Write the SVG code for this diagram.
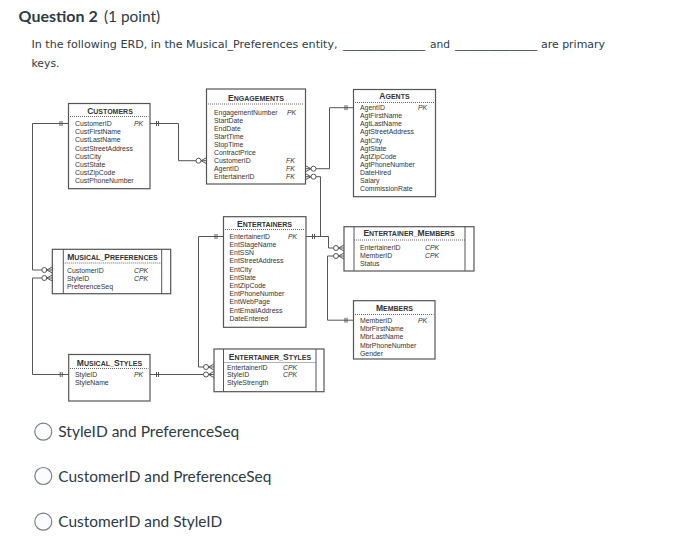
<svg xmlns="http://www.w3.org/2000/svg" xmlns:xlink="http://www.w3.org/1999/xlink" width="686" height="554" viewBox="0 0 686 554">
<style>
.bg{fill:#fff}
.ln{stroke:#555;stroke-width:1;fill:none}
.box{fill:#fff;stroke:#555;stroke-width:1.2}
.in{stroke:#555;stroke-width:1}
.dot{stroke:#555;stroke-width:0.9;stroke-dasharray:1 1}
.f{font-family:"Liberation Sans",Arial,sans-serif;font-size:6.9px;fill:#333}
.k{font-style:italic}
.ti{font-family:"Liberation Sans",Arial,sans-serif;font-weight:bold;font-size:7px;fill:#333;text-anchor:middle}
.ti .c{font-size:8.5px}
.q{font-family:"DejaVu Sans Condensed","DejaVu Sans",sans-serif;font-size:11px;fill:#2d3b45}
.h{font-family:Lato,"Liberation Sans",sans-serif;font-size:16px;fill:#2d3b45}
.opt{font-family:Lato,"Liberation Sans",sans-serif;font-size:16px;fill:#2d3b45}
.rad{fill:#fbfcff;stroke:#7a7e82;stroke-width:1.2}
</style>
<defs>
<g id="crowR">
<circle cx="-8" cy="0" r="2.5" fill="#fff" stroke="#555" stroke-width="1"/>
<path d="M-5.5,0 L0,-3 M-5.5,0 L0,0 M-5.5,0 L0,3" stroke="#555" stroke-width="1" fill="none"/>
</g>
<g id="crowL">
<circle cx="8" cy="0" r="2.5" fill="#fff" stroke="#555" stroke-width="1"/>
<path d="M5.5,0 L0,-3 M5.5,0 L0,0 M5.5,0 L0,3" stroke="#555" stroke-width="1" fill="none"/>
</g>
<path id="tickR" d="M-6.5,-2.5 V2.5 M-8.5,-2.5 V2.5" stroke="#555" stroke-width="1" fill="none"/>
<path id="tickL" d="M6.5,-2.5 V2.5 M8.5,-2.5 V2.5" stroke="#555" stroke-width="1" fill="none"/>
</defs>
<rect class="bg" x="0" y="0" width="686" height="554"/>

<g id="question">
<text class="h" x="18.6" y="21.5" font-weight="bold">Question 2</text>
<text class="h" x="104" y="21.5" textLength="56" lengthAdjust="spacingAndGlyphs">(1 point)</text>
<text class="q" x="31.5" y="48" textLength="306" lengthAdjust="spacingAndGlyphs">In the following ERD, in the Musical_Preferences entity,</text>
<text class="q" x="343" y="48" textLength="82" lengthAdjust="spacingAndGlyphs">____________</text>
<text class="q" x="430" y="48" textLength="20" lengthAdjust="spacingAndGlyphs">and</text>
<text class="q" x="455" y="48" textLength="82" lengthAdjust="spacingAndGlyphs">____________</text>
<text class="q" x="541" y="48" textLength="64" lengthAdjust="spacingAndGlyphs">are primary</text>
<text class="q" x="31.5" y="67" textLength="28" lengthAdjust="spacingAndGlyphs">keys.</text>
</g>

<g id="connectors">
<path class="ln" d="M150,123.5 H178.5 V160.7 H196"/>
<use xlink:href="#tickL" x="150" y="123.5"/>
<use xlink:href="#crowR" x="206.5" y="160.7"/>

<path class="ln" d="M68.5,123.5 H32.5 V270 H41.8"/>
<use xlink:href="#tickR" x="68.5" y="123.5"/>
<use xlink:href="#crowR" x="52.3" y="270"/>

<path class="ln" d="M68.7,374.5 H32.5 V278 H41.8"/>
<use xlink:href="#tickR" x="68.7" y="374.5"/>
<use xlink:href="#crowR" x="52.3" y="278"/>

<path class="ln" d="M150,374.5 H203.5"/>
<use xlink:href="#tickL" x="150" y="374.5"/>
<use xlink:href="#crowR" x="214" y="374.5"/>

<path class="ln" d="M223.5,236.5 H198.5 V367 H203.5"/>
<use xlink:href="#tickR" x="223.5" y="236.5"/>
<use xlink:href="#crowR" x="214" y="367"/>

<path class="ln" d="M316,168.7 H329.5 V107.7 H353.5"/>
<use xlink:href="#crowL" x="305.5" y="168.7"/>
<use xlink:href="#tickR" x="353.5" y="107.7"/>

<path class="ln" d="M316,176.7 H320.5 V236.5"/>
<use xlink:href="#crowL" x="305.5" y="176.7"/>

<path class="ln" d="M306,236.5 H328.5 V248 H333.5"/>
<use xlink:href="#tickL" x="306" y="236.5"/>
<use xlink:href="#crowR" x="344" y="248"/>

<path class="ln" d="M353.5,320.2 H327.5 V256 H333.5"/>
<use xlink:href="#tickR" x="353.5" y="320.2"/>
<use xlink:href="#crowR" x="344" y="256"/>
</g>

<g id="customers">
<rect class="box" x="68.5" y="103.5" width="81.5" height="85.2"/>
<text class="ti" x="110" y="113.5"><tspan class="c">C</tspan>USTOMERS</text>
<line class="dot" x1="70" y1="116.5" x2="148.5" y2="116.5"/>
<text class="f" x="75" y="126">CustomerID</text><text class="f k" x="134" y="126">PK</text>
<text class="f" x="75" y="134.2">CustFirstName</text>
<text class="f" x="75" y="142.4">CustLastName</text>
<text class="f" x="75" y="150.6">CustStreetAddress</text>
<text class="f" x="75" y="158.8">CustCity</text>
<text class="f" x="75" y="167">CustState</text>
<text class="f" x="75" y="175.2">CustZipCode</text>
<text class="f" x="75" y="183.4">CustPhoneNumber</text>
</g>

<g id="engagements">
<rect class="box" x="206.5" y="89" width="99" height="95"/>
<text class="ti" x="256" y="101.3"><tspan class="c">E</tspan>NGAGEMENTS</text>
<line class="dot" x1="208" y1="104" x2="304" y2="104"/>
<text class="f" x="214" y="115.2">EngagementNumber</text><text class="f k" x="287" y="115.2">PK</text>
<text class="f" x="214" y="123.2">StartDate</text>
<text class="f" x="214" y="131.2">EndDate</text>
<text class="f" x="214" y="139.2">StartTime</text>
<text class="f" x="214" y="147.2">StopTime</text>
<text class="f" x="214" y="155.2">ContractPrice</text>
<text class="f" x="214" y="163.2">CustomerID</text><text class="f k" x="286" y="163.2">FK</text>
<text class="f" x="214" y="171.2">AgentID</text><text class="f k" x="286" y="171.2">FK</text>
<text class="f" x="214" y="179.2">EntertainerID</text><text class="f k" x="286" y="179.2">FK</text>
</g>

<g id="agents">
<rect class="box" x="353.5" y="89.5" width="82" height="107.2"/>
<text class="ti" x="394.5" y="98.5"><tspan class="c">A</tspan>GENTS</text>
<line class="dot" x1="355" y1="102.5" x2="434" y2="102.5"/>
<text class="f" x="360" y="110.2">AgentID</text><text class="f k" x="418" y="110.2">PK</text>
<text class="f" x="360" y="118.3">AgtFirstName</text>
<text class="f" x="360" y="126.3">AgtLastName</text>
<text class="f" x="360" y="134.4">AgtStreetAddress</text>
<text class="f" x="360" y="142.5">AgtCity</text>
<text class="f" x="360" y="150.6">AgtState</text>
<text class="f" x="360" y="158.6">AgtZipCode</text>
<text class="f" x="360" y="166.7">AgtPhoneNumber</text>
<text class="f" x="360" y="174.8">DateHired</text>
<text class="f" x="360" y="182.8">Salary</text>
<text class="f" x="360" y="190.9">CommissionRate</text>
</g>

<g id="musical_preferences">
<rect class="box" x="52.3" y="249.3" width="118.4" height="44.4"/>
<line class="in" x1="63.3" y1="249.3" x2="63.3" y2="293.7"/>
<line class="in" x1="161.7" y1="249.3" x2="161.7" y2="293.7"/>
<text class="ti" x="112.5" y="259.7"><tspan class="c">M</tspan>USICAL_<tspan class="c">P</tspan>REFERENCES</text>
<line class="dot" x1="63.3" y1="263" x2="161.7" y2="263"/>
<text class="f" x="67" y="272.5">CustomerID</text><text class="f k" x="134" y="272.5">CPK</text>
<text class="f" x="67" y="280.5">StyleID</text><text class="f k" x="134" y="280.5">CPK</text>
<text class="f" x="67" y="288.5">PreferenceSeq</text>
</g>

<g id="entertainers">
<rect class="box" x="223.5" y="216.7" width="82.5" height="110.6"/>
<text class="ti" x="264.5" y="227"><tspan class="c">E</tspan>NTERTAINERS</text>
<line class="dot" x1="225" y1="229.5" x2="304.5" y2="229.5"/>
<text class="f" x="229.5" y="238.8">EntertainerID</text><text class="f k" x="288" y="238.8">PK</text>
<text class="f" x="229.5" y="247">EntStageName</text>
<text class="f" x="229.5" y="255.2">EntSSN</text>
<text class="f" x="229.5" y="263.4">EntStreetAddress</text>
<text class="f" x="229.5" y="271.6">EntCity</text>
<text class="f" x="229.5" y="279.8">EntState</text>
<text class="f" x="229.5" y="288">EntZipCode</text>
<text class="f" x="229.5" y="296.2">EntPhoneNumber</text>
<text class="f" x="229.5" y="304.4">EntWebPage</text>
<text class="f" x="229.5" y="312.6">EntEmailAddress</text>
<text class="f" x="229.5" y="320.8">DateEntered</text>
</g>

<g id="entertainer_members">
<rect class="box" x="344" y="226.7" width="130" height="44.3"/>
<line class="in" x1="354" y1="226.7" x2="354" y2="271"/>
<line class="in" x1="465" y1="226.7" x2="465" y2="271"/>
<text class="ti" x="409" y="236.3"><tspan class="c">E</tspan>NTERTAINER_<tspan class="c">M</tspan>EMBERS</text>
<line class="dot" x1="354" y1="240" x2="465" y2="240"/>
<text class="f" x="360" y="250.2">EntertainerID</text><text class="f k" x="425" y="250.2">CPK</text>
<text class="f" x="360" y="258">MemberID</text><text class="f k" x="425" y="258">CPK</text>
<text class="f" x="360" y="265.7">Status</text>
</g>

<g id="members">
<rect class="box" x="353.5" y="300.7" width="81.5" height="58.3"/>
<text class="ti" x="394.5" y="311.3"><tspan class="c">M</tspan>EMBERS</text>
<line class="dot" x1="355" y1="314.5" x2="433.5" y2="314.5"/>
<text class="f" x="360" y="322.7">MemberID</text><text class="f k" x="418" y="322.7">PK</text>
<text class="f" x="360" y="331">MbrFirstName</text>
<text class="f" x="360" y="339.3">MbrLastName</text>
<text class="f" x="360" y="347.6">MbrPhoneNumber</text>
<text class="f" x="360" y="355.9">Gender</text>
</g>

<g id="musical_styles">
<rect class="box" x="68.7" y="354.5" width="81.3" height="46.5"/>
<text class="ti" x="109.5" y="365.7"><tspan class="c">M</tspan>USICAL_<tspan class="c">S</tspan>TYLES</text>
<line class="dot" x1="70" y1="368.5" x2="148.5" y2="368.5"/>
<text class="f" x="75" y="376.5">StyleID</text><text class="f k" x="134" y="376.5">PK</text>
<text class="f" x="75" y="384.5">StyleName</text>
</g>

<g id="entertainer_styles">
<rect class="box" x="214" y="349" width="110" height="42.7"/>
<line class="in" x1="223.5" y1="349" x2="223.5" y2="391.7"/>
<line class="in" x1="316" y1="349" x2="316" y2="391.7"/>
<text class="ti" x="270" y="359.7"><tspan class="c">E</tspan>NTERTAINER_<tspan class="c">S</tspan>TYLES</text>
<line class="dot" x1="223.5" y1="362.5" x2="316" y2="362.5"/>
<text class="f" x="227" y="369.5">EntertainerID</text><text class="f k" x="283" y="369.5">CPK</text>
<text class="f" x="227" y="377.2">StyleID</text><text class="f k" x="283" y="377.2">CPK</text>
<text class="f" x="227" y="384.9">StyleStrength</text>
</g>

<g id="options">
<circle class="rad" cx="43.3" cy="431.7" r="8.5"/>
<text class="opt" x="58.3" y="437.3" textLength="181" lengthAdjust="spacingAndGlyphs">StyleID and PreferenceSeq</text>
<circle class="rad" cx="43.3" cy="476" r="8.5"/>
<text class="opt" x="58.3" y="481.6" textLength="213" lengthAdjust="spacingAndGlyphs">CustomerID and PreferenceSeq</text>
<circle class="rad" cx="43.3" cy="521.7" r="8.5"/>
<text class="opt" x="58.3" y="527.3" textLength="164" lengthAdjust="spacingAndGlyphs">CustomerID and StyleID</text>
</g>
</svg>
